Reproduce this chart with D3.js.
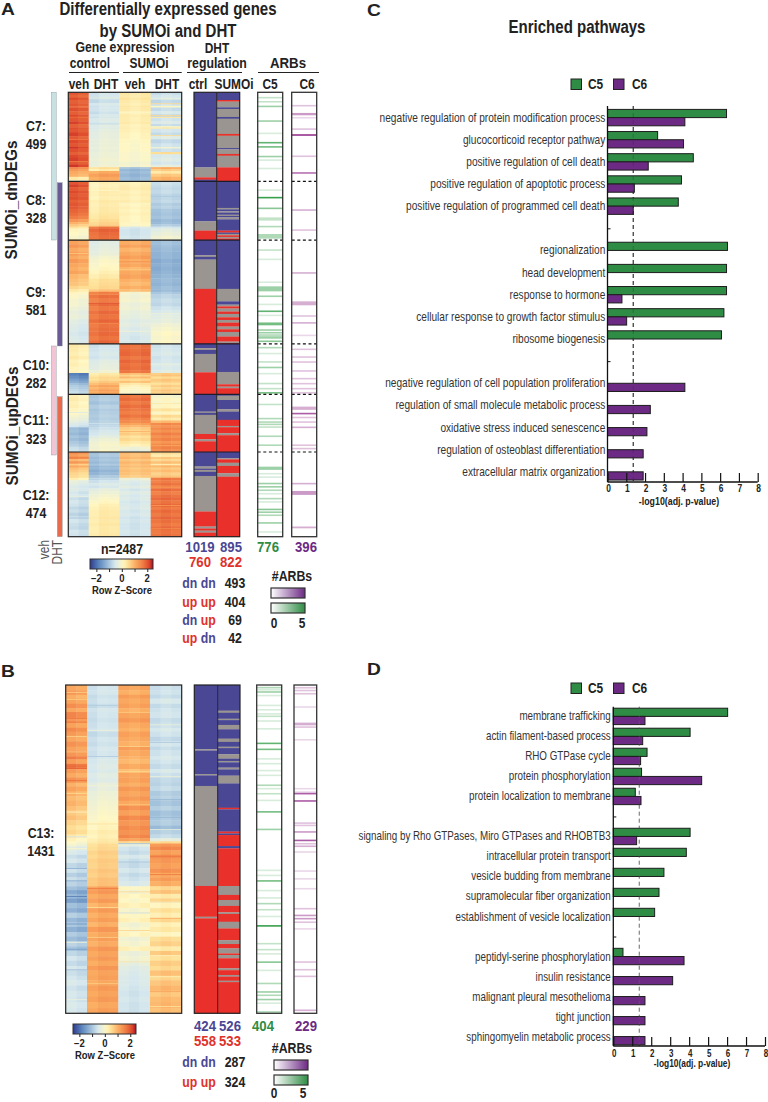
<!DOCTYPE html>
<html><head><meta charset="utf-8">
<style>
html,body{margin:0;padding:0;background:#fff}
svg{display:block}
text{font-family:"Liberation Sans",Arial,sans-serif}
</style>
<script src="https://cdn.jsdelivr.net/npm/d3@7/dist/d3.min.js"></script>
</head><body><div id="c"></div>
<script>
// ---------- enrichment bars ----------
const pathwaysC=["negative regulation of protein modification process","glucocorticoid receptor pathway","positive regulation of cell death","positive regulation of apoptotic process","positive regulation of programmed cell death",null,"regionalization","head development","response to hormone","cellular response to growth factor stimulus","ribosome biogenesis",null,"negative regulation of cell population proliferation","regulation of small molecule metabolic process","oxidative stress induced senescence","regulation of osteoblast differentiation","extracellular matrix organization"];
const c5ValuesC=[6.34,2.67,4.57,3.94,3.77,null,6.39,6.34,6.34,6.2,6.07,null,0,0,0,0,0];
const c6ValuesC=[4.12,4.05,2.17,1.43,1.37,null,0,0,.77,1.02,0,null,4.12,2.28,2.1,1.9,1.9];
const pathwaysD=["membrane trafficking","actin filament-based process","RHO GTPase cycle","protein phosphorylation","protein localization to membrane",null,"signaling by Rho GTPases, Miro GTPases and RHOBTB3","intracellular protein transport","vesicle budding from membrane","supramolecular fiber organization","establishment of vesicle localization",null,"peptidyl-serine phosphorylation","insulin resistance","malignant pleural mesothelioma","tight junction","sphingomyelin metabolic process"];
const c5ValuesD=[6.03,4.05,1.78,1.49,1.16,null,4.05,3.85,2.67,2.41,2.18,null,.51,0,0,0,0];
const c6ValuesD=[1.67,1.55,1.44,4.66,1.46,null,1.23,0,0,0,0,null,3.73,3.13,1.67,1.67,1.67];
const xTicks=[0,1,2,3,4,5,6,7,8];
const sigThreshold=1.37;

// ---------- heatmap bands: [genes, z veh, z DHT, z SUMOi veh, z SUMOi DHT] ----------
const c7Bands=[[6,2,-.6,.35,-.7],[8,1.85,-.55,.3,-.55],[5,2.1,-.65,.4,-.35],[9,1.9,-.7,.3,-.75],[7,2,-.5,.25,-.6],[4,1.75,-.6,.35,.1],[10,2.05,-.55,.3,-.7],[8,1.9,-.65,.2,-.5],[6,2.1,-.5,.3,-.8],[3,1.8,-.6,.25,.35],[9,2,-.45,.25,-.6],[7,2.15,-.5,.3,-.45],[8,1.9,-.4,.2,-.7],[4,2.05,-.45,.25,.3],[10,2,-.35,.2,-.55],[9,2.15,-.3,.15,-.7],[8,1.95,-.3,.15,-.4],[11,2.1,-.25,.1,-.75],[9,2,-.25,.05,-.6],[4,2.2,-.2,.1,-.15],[9,2.05,-.25,.05,-.65],[6,1.9,-.2,0,.5],[9,2.1,-.2,0,-.5],[10,2.15,-.15,0,-.4],[8,2,-.2,-.1,-.55],[6,2.2,-.15,-.05,-.3],[5,1.45,.45,-1,1.05],[5,1.25,.25,-1.2,.7],[7,1.05,1.05,-1.1,.35],[8,.95,1.25,-1.2,.75],[9,.3,1.1,-1.1,1],[3,-.2,.9,-1,.8]];
const c8Bands=[[8,2,.2,.2,-.65],[7,2.15,.15,.25,-.7],[9,1.95,.2,.3,-.75],[8,2.1,.25,.2,-.7],[7,2,.25,.25,-.8],[10,2.05,.2,.2,-.8],[8,1.9,.3,.25,-.75],[9,2,.25,.15,-.9],[7,1.95,.3,.2,-.85],[10,1.85,.3,.15,-1],[8,1.75,.35,.2,-1.05],[9,1.6,.4,.15,-1],[8,1.3,.5,.15,-1.15],[6,.95,.6,.1,-1.1],[6,.7,.7,.1,-.9],[5,.4,1.7,-.5,-.55],[9,.1,1.9,-.6,-.35],[10,.05,1.8,-.6,-.25],[9,-.05,1.75,-.55,-.1],[3,.3,1.6,-.5,-.2]];
const c9Bands=[[10,1.15,-.4,1.05,-1.05],[8,1.3,-.35,1.2,-1.1],[9,1.05,-.3,.95,-1.15],[10,1.2,-.25,1.1,-1.2],[8,1.05,-.1,1.25,-1.2],[10,1.25,0,1.05,-1.3],[9,1.1,.05,1.15,-1.25],[9,1,.1,.95,-1.3],[8,1.15,.2,1.1,-1.25],[11,.9,.3,1.2,-1.2],[8,.8,.45,1,-1.15],[9,.75,.5,.9,-1.2],[8,.55,.55,1.05,-1.1],[6,.3,.8,.85,-1.15],[6,.1,1.6,-.05,-.95],[10,0,1.75,-.1,-.8],[9,-.1,1.6,-.05,-.7],[10,-.1,1.8,-.2,-.75],[9,-.2,1.65,-.15,-.6],[10,-.3,1.8,-.25,-.5],[11,-.25,1.7,-.3,-.35],[10,-.4,1.85,-.4,-.3],[9,-.45,1.7,-.35,-.15],[10,-.5,1.75,-.45,-.05],[11,-.55,1.8,-.5,.05],[10,-.5,1.7,-.55,0],[9,-.45,1.85,-.5,.05]];
const c10Bands=[[12,.3,-.6,1.75,-.6],[10,.25,-.55,1.8,-.55],[12,.2,-.5,1.85,-.5],[10,.3,-.55,1.7,-.6],[10,.15,-.4,1.85,-.55],[10,.2,-.35,1.75,-.45],[10,.1,-.3,1.8,-.5],[8,.15,-.15,1.7,-.4],[5,-1.9,.3,.9,.7],[5,-1.8,.4,.6,.8],[6,-1.7,.55,.9,.5],[6,-1.5,.5,.5,.75],[6,-1.35,.7,.8,.7],[6,-1.1,.9,.35,.5],[6,-.95,1.15,.2,.7],[6,-.9,1,.1,.55],[6,-.8,1.2,.05,.75],[8,-.7,1.1,0,.65]];
const c11Bands=[[10,.2,-.95,1.7,-.05],[9,.25,-.9,1.8,.1],[10,.15,-1,1.65,0],[10,.2,-.85,1.8,.1],[9,.1,-.95,1.7,.4],[9,.05,-.9,1.6,.1],[8,-.1,-.85,1.75,.55],[8,-.2,-.9,1.55,.3],[7,-.35,-.85,1.45,.9],[6,-.5,-.8,1.2,1.5],[6,-.6,-.75,.95,1.35],[7,-1.15,-.65,.7,1.5],[8,-1.1,-.55,.55,1.35],[8,-1.2,-.5,.7,1.6],[7,-1.05,-.35,.45,1.4],[8,-1.15,-.2,.55,1.55],[8,-1,-.1,.35,1.3],[8,-.9,-.05,.2,1.5],[8,-.7,-.1,-.15,1.55],[7,-.65,0,-.3,1.4]];
const c12Bands=[[7,1.4,-1,.9,.5],[7,1.2,-.95,.85,.3],[6,1.5,-1.05,.95,.75],[6,.9,-1,.75,.55],[7,1.3,-1.1,.95,.85],[5,.7,-.95,.8,.6],[6,1.1,-1.15,.9,.95],[6,.8,-1.1,.75,.7],[8,.7,-1.25,.85,.85],[8,.55,-1.15,.8,.65],[7,.5,-.95,.7,.8],[7,.2,-.8,-.2,1.7],[8,-.3,-.6,-.4,1.6],[7,-.4,-.45,-.5,1.75],[8,-.5,-.55,-.35,1.5],[8,-.45,-.3,-.55,1.8],[9,-.6,-.2,-.4,1.6],[8,-.5,-.1,-.5,1.75],[9,-.7,0,-.45,1.85],[9,-.6,.1,-.55,1.7],[9,-.65,.2,-.5,1.85],[8,-.8,.25,-.45,1.65],[9,-.7,.3,-.55,1.8],[10,-.85,.3,-.5,1.7],[9,-.7,.35,-.6,1.85],[10,-.6,.3,-.55,1.75],[9,-.7,.35,-.6,1.65],[10,-.75,.3,-.6,1.8],[10,-.6,.3,-.55,1.7],[10,-.65,.35,-.6,1.75]];
const c13Bands=[[14,1.1,-.6,1.15,-.65],[12,1.3,-.55,1,-.6],[10,1,-.65,1.25,-.7],[14,1.15,-.6,1.1,-.5],[12,1.4,-.7,1.2,-.7],[10,1.1,-.55,1,-.6],[16,1.5,-.6,1.15,-.55],[12,1.3,-.65,1.3,-.7],[14,1.15,-.6,1.1,-.65],[10,1.45,-.55,1,-.5],[14,1.25,-.7,1.2,-.6],[12,1.1,-.6,1.1,-.75],[14,1.35,-.65,1,-.55],[10,1.15,-.55,1.25,-.7],[16,1.3,-.6,1.1,-.6],[8,1.6,-.55,1,-.5],[12,1.2,-.5,.9,-.6],[14,1.7,-.45,1.1,-.7],[10,1.25,-.5,.85,-.5],[12,1.05,-.4,1.15,-.65],[14,1.35,-.45,1.2,-.75],[10,.95,-.3,1.05,-.8],[12,1.15,-.3,1.3,-.7],[14,1,-.2,1.15,-.9],[12,.85,-.15,1.3,-.85],[14,.95,-.1,1.1,-1],[12,.8,-.05,1.4,-.85],[14,.7,0,1.2,-1.05],[12,.8,.05,1.5,-.95],[14,.6,.1,1.3,-.9],[12,.45,.15,1.45,-1.1],[12,.55,.25,1.35,-.85],[10,.3,.2,1.5,-.7],[8,.15,.3,1.2,-.3],[6,.05,.35,.55,.55],[8,-.1,.5,-.3,1.3],[10,-.4,.55,-.6,1.5],[12,-.5,.65,-.7,1.2],[10,-.7,.6,-.5,1.45],[12,-.55,.7,-.65,1.3],[14,-.8,.65,-.7,1.2],[12,-.65,.75,-.55,1.4],[12,-.9,.7,-.7,1.1],[10,-.7,.8,-.6,1.25],[14,-.85,.8,-.5,1.05],[10,-1.1,1.2,.1,.55],[10,-1.4,1.3,-.1,.8],[12,-1.2,1.1,.15,.3],[12,-1.5,1.25,.05,.6],[14,-1.1,1,.2,.15],[12,-1.3,1.25,-.05,.45],[14,-.9,1.05,.1,.25],[12,-1.2,1.2,.2,.55],[12,-1,1,-.1,.2],[14,-1.3,1.3,0,.35],[12,-.95,1.1,.15,.1],[12,-1.15,1.2,-.15,.5],[14,-.85,1.05,-.05,.65],[12,-1.05,1.3,.2,.3],[14,-.8,1.15,-.2,.75],[12,-.6,1.25,-.1,.45],[14,-.75,1.1,-.3,.7],[12,-.55,1.3,-.4,.55],[14,-.7,1.15,-.45,.85],[12,-.6,1.2,-.5,.6],[14,-.5,1.1,-.5,.8],[14,-.65,1.25,-.55,.95],[16,-.55,1.15,-.6,.75],[14,-.6,1.25,-.55,.9],[16,-.5,1.1,-.6,.95],[14,-.55,1.2,-.6,.85]];
const clustersA=[{name:"C7",size:499,bands:c7Bands},{name:"C8",size:328,bands:c8Bands},{name:"C9",size:581,bands:c9Bands},{name:"C10",size:282,bands:c10Bands},{name:"C11",size:323,bands:c11Bands},{name:"C12",size:474,bands:c12Bands}];
const clustersB=[{name:"C13",size:1431,bands:c13Bands}];
const repShift=[[.05,-.05],[-.06,.05,.02],[.03,-.05,.04],[-.04,.05,-.02]];
// thin single-gene streaks: [gene, genes spanned, condition, z]
const streaksA=[[30,4,1,-.2],[62,4,3,.6],[110,4,2,.05],[128,4,3,.55],[175,4,1,-.75],[190,5,3,.1],[240,4,3,.5],[262,5,0,1.7],[340,4,3,.5],[385,4,0,1.6],[548,4,1,.05],[580,4,3,-.95],[620,4,2,.0],[900,5,0,.8],[946,5,2,1.4],[990,5,2,.75],[1040,5,3,-1.05],[1128,5,1,1.4],[1180,4,1,2],[1235,4,3,-.2],[1290,5,1,1.5],[1335,5,2,-.15],[1520,4,3,-.3],[1602,4,2,.55],[1625,4,3,.4],[1740,4,3,.35],[1790,5,0,-.4],[1850,5,1,-.6],[1895,4,2,1.1],[1975,5,3,1.15],[2040,4,0,1.6],[2080,4,3,.2],[2160,5,1,-.7],[2210,5,3,1.4],[2260,4,0,-.3],[2310,5,3,1.35],[2380,5,0,-.95],[2440,4,3,1.45]];
const streaksB=[[30,3,0,.6],[62,3,0,.7],[88,3,1,-.9],[118,3,2,.7],[144,3,0,1.7],[160,3,0,1.8],[172,3,3,-.2],[196,3,1,-.2],[222,3,0,.55],[248,3,3,-1],[266,3,2,.6],[290,3,0,.7],[310,3,1,-.95],[352,3,0,1.85],[362,3,0,1.9],[376,3,2,.55],[398,3,3,-.2],[415,3,0,1.75],[436,3,1,-.1],[470,3,0,.45],[498,3,3,-1.2],[520,3,2,.8],[552,3,0,.1],[575,3,3,-1.2],[604,3,1,.45],[628,3,3,-.3],[660,3,0,-.6],[690,3,2,-1.05],[712,3,0,.1],[745,3,3,1.7],[770,3,2,-1.05],[798,3,0,-1.3],[825,3,3,1.7],[852,3,0,-1.4],[886,3,1,1.7],[900,3,2,.6],[920,3,0,-1.9],[945,3,3,-.1],[968,3,1,.5],[992,3,2,-.7],[1015,3,3,1.1],[1040,3,0,-1.6],[1068,3,2,.6],[1098,3,1,.6],[1120,3,0,-.2],[1150,3,0,-1.5],[1178,3,3,.15],[1205,3,2,.4],[1240,3,0,-1.2],[1270,3,3,.2],[1300,3,1,.7],[1335,3,3,1.2],[1370,3,0,-.2],[1400,3,3,.45]];

// ---------- DHT regulation tracks: [end gene, direction] ----------
const ctrlA=[[420,"dn"],[476,"ns"],[489,"up"],[499,"dn"],[722,"dn"],[774,"ns"],[827,"up"],[912,"dn"],[921,"ns"],[936,"dn"],[1100,"ns"],[1408,"up"],[1432,"dn"],[1442,"ns"],[1464,"dn"],[1567,"ns"],[1690,"up"],[1787,"dn"],[1794,"ns"],[1805,"dn"],[1912,"ns"],[1942,"up"],[1953,"ns"],[2013,"up"],[2094,"dn"],[2106,"ns"],[2113,"dn"],[2124,"ns"],[2147,"dn"],[2346,"ns"],[2430,"up"],[2441,"ns"],[2453,"up"],[2464,"ns"],[2487,"up"]];
const sumoiA=[[43,"dn"],[52,"up"],[84,"ns"],[93,"dn"],[138,"ns"],[148,"dn"],[233,"ns"],[243,"up"],[312,"ns"],[319,"dn"],[345,"ns"],[355,"up"],[420,"ns"],[499,"up"],[647,"dn"],[655,"ns"],[666,"dn"],[673,"ns"],[685,"dn"],[692,"ns"],[700,"dn"],[711,"ns"],[774,"dn"],[785,"up"],[792,"dn"],[800,"ns"],[809,"up"],[818,"ns"],[827,"up"],[1100,"dn"],[1170,"ns"],[1188,"dn"],[1198,"ns"],[1210,"up"],[1227,"ns"],[1240,"up"],[1259,"ns"],[1274,"up"],[1289,"ns"],[1311,"up"],[1326,"ns"],[1341,"up"],[1367,"ns"],[1395,"up"],[1403,"ns"],[1408,"up"],[1565,"dn"],[1634,"ns"],[1647,"up"],[1656,"ns"],[1690,"up"],[1698,"dn"],[1722,"ns"],[1774,"dn"],[1787,"ns"],[1833,"dn"],[1867,"up"],[1874,"ns"],[1908,"up"],[1919,"ns"],[2013,"up"],[2048,"dn"],[2054,"ns"],[2073,"up"],[2091,"ns"],[2132,"up"],[2151,"ns"],[2487,"up"]];
const ctrlB=[[280,"dn"],[286,"ns"],[388,"dn"],[394,"ns"],[440,"dn"],[876,"ns"],[1010,"up"],[1017,"ns"],[1431,"up"]];
const sumoiB=[[112,"dn"],[121,"ns"],[147,"dn"],[153,"ns"],[174,"dn"],[193,"ns"],[234,"dn"],[248,"ns"],[269,"dn"],[275,"ns"],[302,"dn"],[321,"ns"],[331,"dn"],[337,"ns"],[360,"dn"],[368,"ns"],[395,"dn"],[429,"ns"],[535,"dn"],[542,"up"],[639,"dn"],[647,"up"],[654,"dn"],[702,"up"],[712,"dn"],[876,"up"],[915,"ns"],[937,"up"],[963,"ns"],[991,"up"],[998,"ns"],[1032,"up"],[1061,"ns"],[1112,"up"],[1129,"ns"],[1148,"up"],[1170,"ns"],[1177,"up"],[1191,"ns"],[1235,"up"],[1243,"ns"],[1264,"up"],[1271,"ns"],[1289,"up"],[1295,"ns"],[1431,"up"]];

// ---------- ARB tracks: [gene, genes spanned, #ARBs] ----------
const c5TrackA=[[28,5,1.5],[51,5,1.5],[79,9,2.5],[159,5,2.5],[228,5,1],[280,5,4],[304,6,3.5],[358,6,2.5],[377,4,1],[424,4,1],[545,4,1],[588,6,5],[647,4,3],[709,18,1.5],[750,6,2],[806,26,2],[881,5,1.5],[933,5,1],[1061,5,1],[1100,28,2.5],[1140,6,2.5],[1185,5,1],[1224,6,4],[1246,4,1],[1296,16,3.5],[1330,8,2.5],[1345,8,2.5],[1358,8,2],[1372,14,2.5],[1392,6,3],[1427,5,2],[1460,5,1],[1507,5,1.5],[1539,7,2.5],[1572,4,1],[1628,5,1.5],[1656,4,1.5],[1680,5,3.5],[1746,7,1.5],[1824,5,2],[1843,4,2],[1856,4,2],[1871,4,1.5],[1923,5,2],[1973,5,2],[2104,18,2.5],[2132,4,1],[2151,4,1],[2188,6,2.5],[2206,5,2.5],[2225,5,2],[2244,4,1],[2272,5,2],[2290,4,1],[2333,6,3],[2348,5,2.5],[2365,5,2],[2408,5,2.5],[2458,4,1]];
const c6TrackA=[[73,5,1.5],[122,13,2.5],[140,4,1],[204,5,1.5],[239,10,4.5],[356,5,1.5],[450,6,3.5],[657,5,2],[769,5,1.5],[1009,5,2],[1181,22,2],[1250,5,1.5],[1289,6,2],[1358,4,1],[1436,4,1.5],[1479,4,1.5],[1507,4,1.5],[1557,4,1.5],[1600,4,1.5],[1628,4,1.5],[1656,4,1.5],[1679,4,1.5],[1768,18,2],[1796,5,4],[1818,5,1.5],[1843,4,1.5],[1874,7,2],[1973,5,1.5],[1992,5,1.5],[2188,5,2],[2242,22,2.5],[2435,10,2]];
const c5TrackB=[[10,4,2],[19,3,1],[29,4,2.5],[44,3,1],[87,3,1],[106,3,1],[124,3,1],[135,4,1.5],[155,3,1],[189,3,1],[254,6,4],[280,6,3.5],[320,3,1],[341,3,1],[371,3,1],[392,3,1],[436,5,2],[450,3,1],[472,3,1.5],[501,3,1],[552,5,3.5],[628,4,2.5],[806,3,1],[828,3,1],[853,5,3.5],[894,3,1],[926,3,1],[952,5,2],[978,4,1.5],[1007,3,1],[1050,7,5],[1126,4,1.5],[1152,4,1.5],[1170,3,1],[1207,5,3],[1242,3,1],[1300,5,2],[1337,5,2.5],[1351,4,2],[1370,5,2.5],[1385,3,1],[1424,5,2]];
const c6TrackB=[[10,3,1.5],[22,3,1.5],[36,3,1.5],[94,3,1],[170,12,2],[182,4,1.5],[237,3,1],[450,3,1],[465,3,1],[472,4,4],[504,4,4],[600,3,1.5],[610,3,1.5],[639,4,2.5],[676,4,4],[690,3,1.5],[702,5,2],[726,3,1],[809,3,1],[843,3,1],[886,3,1],[973,3,1.5],[1003,4,2.5],[1017,4,2.5],[1032,3,1.5],[1061,3,1],[1206,4,1.5],[1239,3,1.5],[1268,3,1.5],[1417,5,2]];

const zColors=["#2f3a8f","#5b86bd","#9dbdd9","#d6e8ee","#fff7c4","#fee29a","#fbae63","#f07c44","#dd4a2b","#a50026"];
const zStops=[-2.5,-1.8,-1.1,-.55,.1,.45,1.05,1.65,2.15,2.5];
const dirColors={dn:"#4a4794",ns:"#9b9591",up:"#e9302a"};
const zColor=d3.scaleLinear().domain(zStops).range(zColors).clamp(true);
const green="#2f8c45",purple="#6c2a84";

const svg=d3.select("#c").append("svg").attr("width",768).attr("height",1102);
const defs=svg.append("defs");
defs.append("filter").attr("id","soft").attr("x","-2%").attr("y","-2%").attr("width","104%").attr("height","104%")
  .append("feGaussianBlur").attr("stdDeviation","0.55 0.3");

function T(x,y,s,o={}){
  const sx=o.sx||.85;
  const t=svg.append("text").attr("transform",`translate(${x},${y})`+(o.rot!=null?` rotate(${o.rot})`:"")+` scale(${sx},1)`).text(s)
   .attr("font-size",o.size||13).attr("font-weight",o.w||"bold").attr("fill",o.c||"#222")
   .attr("text-anchor",o.a||"middle");
  return t;
}

function heatmap(g){
  const total=d3.sum(g.clusters,d=>d.size);
  const y=d3.scaleLinear().domain([0,total]).range([g.top,g.bottom]);
  const sub=[];g.cols.forEach((c,i)=>{const n=repShift[i].length;
    const xs=d3.scaleLinear().domain([0,n]).range([c[0],c[1]]);
    repShift[i].forEach((s,j)=>sub.push({i,s,x:xs(j),w:xs(j+1)-xs(j)}));});
  const clip="clip"+g.top;
  defs.append("clipPath").attr("id",clip).append("rect").attr("x",g.cols[0][0]).attr("y",g.top).attr("width",g.cols[3][1]-g.cols[0][0]).attr("height",g.bottom-g.top);
  const gg=svg.append("g").attr("clip-path",`url(#${clip})`).append("g").attr("filter","url(#soft)");
  let start=0;const bounds=[];
  g.clusters.forEach(cl=>{
    const sum=d3.sum(cl.bands,b=>b[0]);
    const ry=d3.scaleLinear().domain([0,sum]).range([start,start+cl.size]);
    let acc=0;
    cl.bands.forEach(b=>{
      const y0=y(ry(acc)),y1=y(ry(acc+b[0]));acc+=b[0];
      gg.selectAll(null).data(sub).enter().append("rect")
       .attr("x",d=>d.x).attr("width",d=>d.w+.4).attr("y",y0).attr("height",y1-y0+.4)
       .attr("fill",d=>zColor(b[d.i+1]+d.s));
    });
    start+=cl.size;bounds.push(start);
  });
  gg.selectAll(null).data(g.streaks).enter().append("rect")
    .attr("x",d=>g.cols[d[2]][0]).attr("width",d=>g.cols[d[2]][1]-g.cols[d[2]][0])
    .attr("y",d=>y(d[0])).attr("height",d=>Math.max(.8,y(d[0]+d[1])-y(d[0]))).attr("fill",d=>zColor(d[3]));
  const x0=g.cols[0][0],x1=g.cols[3][1];
  bounds.slice(0,-1).forEach(b=>svg.append("line").attr("x1",x0).attr("x2",x1).attr("y1",y(b)).attr("y2",y(b)).attr("stroke","#1c1c1c").attr("stroke-width",1.2));
  svg.append("rect").attr("x",x0).attr("y",g.top).attr("width",x1-x0).attr("height",g.bottom-g.top).attr("fill","none").attr("stroke","#222").attr("stroke-width",1.2);
  // regulation tracks
  [[g.ctrl,g.ctrlX],[g.sumoi,g.sumoiX]].forEach(([tr,xx])=>{
    const segs=tr.map((d,i)=>({a:i?tr[i-1][0]:0,b:d[0],dir:d[1]}));
    svg.selectAll(null).data(segs).enter().append("rect")
      .attr("x",xx[0]).attr("width",xx[1]-xx[0])
      .attr("y",d=>y(d.a)).attr("height",d=>y(d.b)-y(d.a)+.2)
      .attr("fill",d=>dirColors[d.dir]);
  });
  bounds.slice(0,-1).forEach(b=>svg.append("line").attr("x1",g.ctrlX[0]).attr("x2",g.sumoiX[1]).attr("y1",y(b)).attr("y2",y(b)).attr("stroke","#1c1c2c").attr("stroke-width",1.2));
  svg.append("rect").attr("x",g.ctrlX[0]).attr("y",g.top).attr("width",g.sumoiX[1]-g.ctrlX[0]).attr("height",g.bottom-g.top).attr("fill","none").attr("stroke","#222").attr("stroke-width",1.2);
  svg.append("line").attr("x1",g.ctrlX[1]).attr("x2",g.ctrlX[1]).attr("y1",g.top).attr("y2",g.bottom).attr("stroke","#222").attr("stroke-width",1);
  // ARB tracks
  const c5s=d3.scaleLinear().domain([0,5]).range(["#fff","#38a04c"]);
  const c6s=d3.scaleLinear().domain([0,5]).range(["#fff","#96358f"]);
  [[g.c5,g.c5X,c5s],[g.c6,g.c6X,c6s]].forEach(([tr,xx,s])=>{
    svg.selectAll(null).data(tr).enter().append("rect")
      .attr("x",xx[0]).attr("width",xx[1]-xx[0])
      .attr("y",d=>y(d[0]-d[1]/2)).attr("height",d=>Math.max(1.6,y(d[0]+d[1]/2)-y(d[0]-d[1]/2)))
      .attr("fill",d=>s(d[2]));
    bounds.slice(0,-1).forEach(b=>svg.append("line").attr("x1",xx[0]).attr("x2",xx[1]).attr("y1",y(b)).attr("y2",y(b)).attr("stroke","#111").attr("stroke-width",1.2).attr("stroke-dasharray","3 2.6"));
    svg.append("rect").attr("x",xx[0]).attr("y",g.top).attr("width",xx[1]-xx[0]).attr("height",g.bottom-g.top).attr("fill","none").attr("stroke","#333").attr("stroke-width",1.3);
  });
}

function gradient(id,stops){
  const lg=defs.append("linearGradient").attr("id",id);
  stops.forEach(([o,c])=>lg.append("stop").attr("offset",o).attr("stop-color",c));
}
const zDom=[-2.5,2.45];
gradient("gz",d3.range(0,21).map(i=>{const v=zDom[0]+(zDom[1]-zDom[0])*i/20;return [i/20,zColor(v)];}));
gradient("gp",[[0,"#fff"],[1,purple]]);
gradient("gg",[[0,"#fff"],[1,green]]);

function colorbar(x0,x1,y0,h,xMid){
  svg.append("rect").attr("x",x0).attr("y",y0).attr("width",x1-x0).attr("height",h).attr("fill","url(#gz)").attr("stroke","#333");
  const s=d3.scaleLinear().domain(zDom).range([x0,x1]);
  const ax=d3.axisBottom(s).tickValues([-2,-1,0,1,2]).tickSize(-3).tickFormat("");
  const g=svg.append("g").attr("transform",`translate(0,${y0+h+3})`).call(ax);
  g.select(".domain").remove();g.selectAll("line").attr("stroke","#222");
  [-2,0,2].forEach(v=>T(s(v),y0+h+13,v<0?"\u2212"+(-v):String(v),{size:10,sx:.95}));
  T(xMid,y0+h+25,"Row Z\u2212Score",{size:10.5,sx:.9});
}
function arbLegend(x0,x1,yP,yG,yLab,xl0,xl5){
  svg.append("rect").attr("x",x0).attr("y",yP).attr("width",x1-x0).attr("height",10).attr("fill","url(#gp)").attr("stroke","#333").attr("stroke-width",1.2);
  svg.append("rect").attr("x",x0).attr("y",yG).attr("width",x1-x0).attr("height",10).attr("fill","url(#gg)").attr("stroke","#333").attr("stroke-width",1.2);
  T(xl0,yLab,"0",{size:14});T(xl5,yLab,"5",{size:14});
}

function bars(g){
  const x=d3.scaleLinear().domain([0,8]).range([g.x0,g.x1]);
  const y=d3.scalePoint().domain(d3.range(g.names.length)).range([g.y0,g.y0+g.step*(g.names.length-1)]);
  const h=8.2;
  const rows=g.names.map((n,i)=>({n,i,a:g.c5[i],b:g.c6[i]}));
  svg.append("line").attr("x1",x(g.thr)).attr("x2",x(g.thr)).attr("y1",g.axisTop).attr("y2",g.axisY).attr("stroke",g.thrC).attr("stroke-width",1).attr("stroke-dasharray",g.dash);
  const rect=(key,col,dy)=>svg.selectAll(null).data(rows.filter(r=>r[key])).enter().append("rect")
    .attr("x",g.x0).attr("y",r=>y(r.i)+dy).attr("width",r=>x(r[key])-g.x0).attr("height",h)
    .attr("fill",col).attr("stroke","#1d1d1d").attr("stroke-width",1);
  rect("a",green,-h);rect("b",purple,0);
  svg.append("line").attr("x1",x(g.thr)).attr("x2",x(g.thr)).attr("y1",g.axisTop).attr("y2",g.axisY).attr("stroke",g.thrC).attr("stroke-width",.8).attr("stroke-dasharray",g.dash).attr("opacity",.35);
  rows.filter(r=>r.n).forEach(r=>T(g.labX,y(r.i)+4,r.n,{size:g.labSize,w:"normal",c:"#333",a:"end",sx:g.labSx}));
  const ax=d3.axisBottom(x).tickValues(xTicks).tickSize(-9).tickFormat("");
  const ag=svg.append("g").attr("transform",`translate(0,${g.axisY})`).call(ax);
  ag.select(".domain").attr("d",`M${g.x0},0H${g.x1}`).attr("stroke","#111").attr("stroke-width",1.3);
  ag.selectAll("line").attr("stroke","#111").attr("stroke-width",1.2);
  xTicks.forEach(v=>T(x(v)+1,g.tickLabY,String(v),{size:g.tickSize,sx:.8}));
  T(g.titleX,g.titleY,"-log10(adj. p-value)",{size:g.tickSize,sx:.84});
  const yt=d3.axisRight(y).tickValues(rows.filter(r=>!r.n).map(r=>r.i)).tickSize(3).tickFormat("");
  const yg=svg.append("g").attr("transform",`translate(${g.x0},0)`).call(yt);
  yg.select(".domain").attr("d",`M0,${g.axisTop}V${g.axisY}`).attr("stroke","#111").attr("stroke-width",1.3);
  yg.selectAll("line").attr("stroke","#111");
  svg.append("rect").attr("x",571).attr("y",g.legY).attr("width",10.5).attr("height",10.5).attr("fill",green).attr("stroke","#222");
  svg.append("rect").attr("x",613.5).attr("y",g.legY).attr("width",10.5).attr("height",10.5).attr("fill",purple).attr("stroke","#222");
  T(588,g.legY+9.5,"C5",{size:14,a:"start"});T(632,g.legY+9.5,"C6",{size:14,a:"start"});
}

// ---- A ----
heatmap({clusters:clustersA,streaks:streaksA,top:92.3,bottom:536.7,cols:[[68.3,88.7],[88.7,119.3],[119.3,150.7],[150.7,181.7]],
  ctrl:ctrlA,sumoi:sumoiA,ctrlX:[194,216.7],sumoiX:[216.7,239.7],c5:c5TrackA,c6:c6TrackA,c5X:[257.7,282.7],c6X:[291.7,316.7]});
// ---- B ----
heatmap({clusters:clustersB,streaks:streaksB,top:685,bottom:1013.3,cols:[[65.7,87],[87,118.3],[118.3,150],[150,181.7]],
  ctrl:ctrlB,sumoi:sumoiB,ctrlX:[194.3,217.7],sumoiX:[217.7,240],c5:c5TrackB,c6:c6TrackB,c5X:[256.7,281.7],c6X:[294,316.7]});

// side bars
[[51.3,92.3,240,"#c7e0e2"],[57.3,182.7,346,"#6c5a96"],[51.3,346,455,"#f3c3d6"],[57.3,396.7,536.7,"#ea6a4c"]].forEach(([x,a,b,c])=>
  svg.append("rect").attr("x",x).attr("y",a).attr("width",4.9).attr("height",b-a).attr("fill",c).attr("stroke","#8a9a9a").attr("stroke-width",.4));

// titles A
T(1,15,"A",{size:16,a:"start",sx:1.2});
T(168,15,"Differentially expressed genes",{size:18,sx:.835});
T(168,37,"by SUMOi and DHT",{size:18,sx:.835});
T(125,52,"Gene expression",{size:14,sx:.88});
T(90,68,"control",{size:14});T(149,68,"SUMOi",{size:14});
T(217,53,"DHT",{size:14});T(217,68,"regulation",{size:14,sx:.88});T(288,68,"ARBs",{size:14,sx:.95});
[[69,119],[123,181.7],[187,242],[258,319]].forEach(([a,b])=>svg.append("line").attr("x1",a).attr("x2",b).attr("y1",72.5).attr("y2",72.5).attr("stroke","#222").attr("stroke-width",1.1));
[[79,"veh"],[106,"DHT"],[135,"veh"],[167,"DHT"],[198,"ctrl"],[234,"SUMOi"],[270,"C5"],[307,"C6"]].forEach(([x,s])=>T(x,89,s,{size:14}));
[["C7:",131],["499",149],["C8:",205],["328",223],["C9:",297],["581",315],["C10:",370],["282",388],["C11:",425],["323",444],["C12:",500],["474",518]].forEach(([s,y])=>T(36,y,s,{size:14.5}));
T(17,200,"SUMOi_dnDEGs",{size:17,rot:-90,sx:.9});
T(18,426,"SUMOi_upDEGs",{size:17,rot:-90,sx:.9});
T(49,540,"veh",{size:14,w:"normal",c:"#555",a:"end",rot:-90});
T(62,540,"DHT",{size:14,w:"normal",c:"#555",a:"end",rot:-90});
T(122,554,"n=2487",{size:14.5});
colorbar(90,153,559,10,122);
const blue="#4a4794",red="#e0312b";
T(200,552,"1019",{size:15.5,c:blue});T(231,552,"895",{size:15.5,c:blue});
T(200,567,"760",{size:15.5,c:red});T(231,567,"822",{size:15.5,c:red});
T(268,552,"776",{size:15.5,c:"#2f8c45"});T(306,552,"396",{size:15.5,c:purple});
function comb(y,a,b,n,x){
  const t=svg.append("text").attr("transform",`translate(${x},${y}) scale(.82,1)`).attr("text-anchor","middle").attr("font-size",15).attr("font-weight","bold");
  t.append("tspan").text(a).attr("fill",a==="dn"?blue:red);
  t.append("tspan").text(" "+b).attr("fill",b==="dn"?blue:red);
  T(235,y,n,{size:15,sx:.82});
}
comb(588,"dn","dn","493",199);comb(607,"up","up","404",199);comb(625,"dn","up","69",199);comb(643,"up","dn","42",199);
T(292,581,"#ARBs",{size:14.5});
arbLegend(271,305,588,603,628,274,302);

// B
T(1,677,"B",{size:16,a:"start",sx:1.2});
T(41,838,"C13:",{size:14.5});T(41,856,"1431",{size:14.5});
colorbar(73,136,1024,10,105);
T(205,1031,"424",{size:15.5,c:blue});T(230,1031,"526",{size:15.5,c:blue});
T(205,1046,"558",{size:15.5,c:red});T(230,1046,"533",{size:15.5,c:red});
T(263,1031,"404",{size:15.5,c:"#2f8c45"});T(306,1031,"229",{size:15.5,c:purple});
comb(1067,"dn","dn","287",199);comb(1087,"up","up","324",199);
T(292,1053,"#ARBs",{size:14.5});
arbLegend(274,308,1060,1075,1098,274,303);

// C
T(367,16,"C",{size:16,a:"start",sx:1.2});
T(577,33,"Enriched pathways",{size:18,sx:.835});
bars({names:pathwaysC,c5:c5ValuesC,c6:c6ValuesC,x0:607.5,x1:757.7,y0:117.6,step:22.14,axisTop:106,axisY:482,thr:sigThreshold,thrC:"#222",dash:"4 3",
  labX:605.3,labSize:13,labSx:.78,tickLabY:492,tickSize:10.5,titleX:679,titleY:505,legY:79});
// D
T(367,675,"D",{size:16,a:"start",sx:1.2});
bars({names:pathwaysD,c5:c5ValuesD,c6:c6ValuesD,x0:613.3,x1:765,y0:716.4,step:20.01,axisTop:706.7,axisY:1046,thr:sigThreshold,thrC:"#777",dash:"4 3",
  labX:610.7,labSize:13,labSx:.755,tickLabY:1056.5,tickSize:10,titleX:692,titleY:1067,legY:683});
</script></body></html>
